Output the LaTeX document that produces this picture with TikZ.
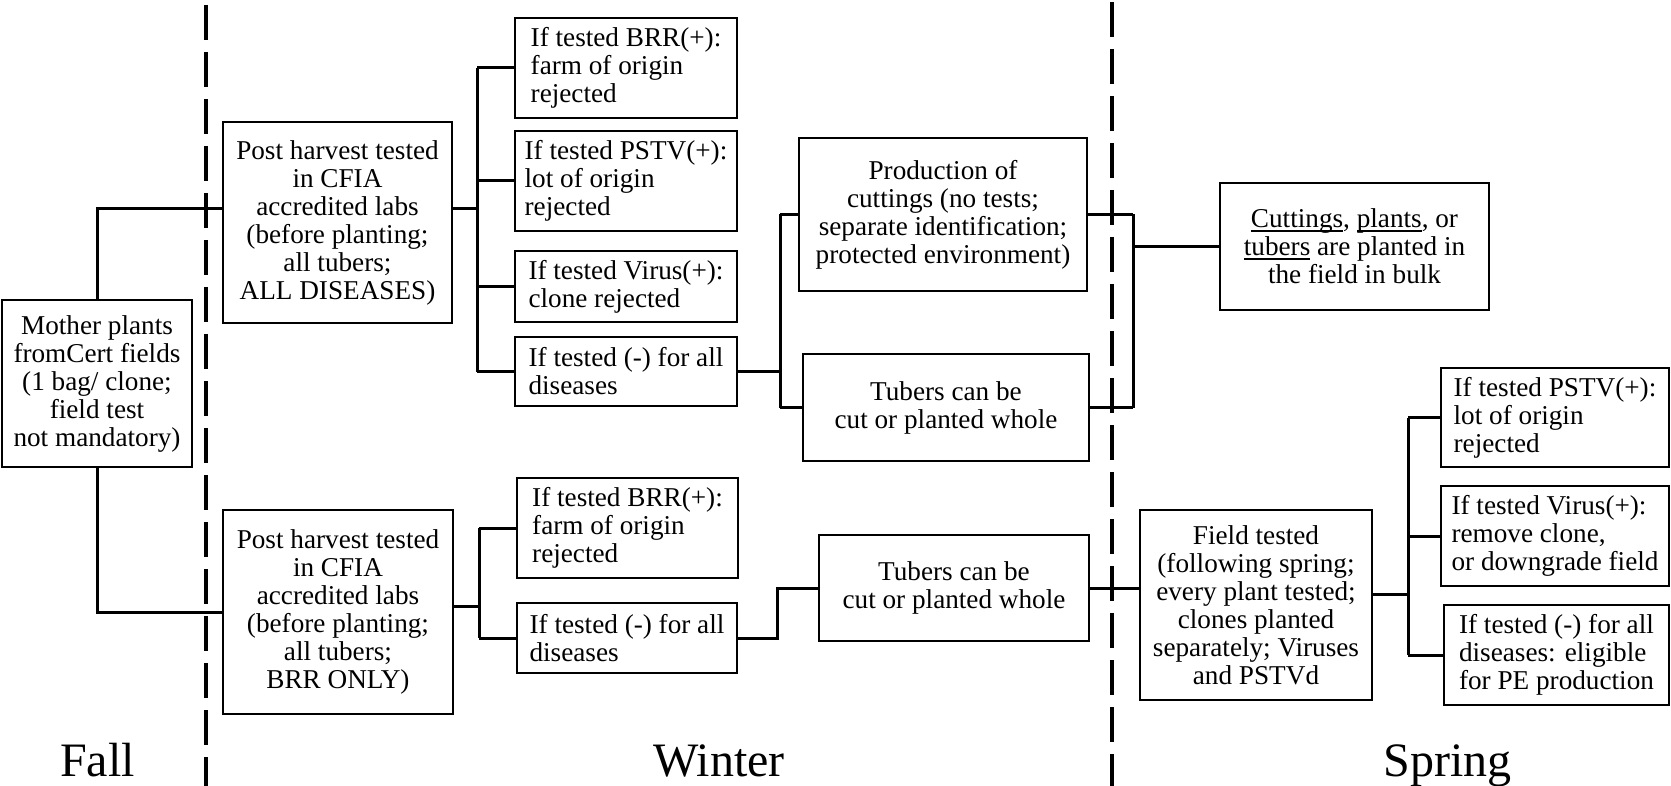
\documentclass[tikz,border=0pt]{standalone}
\usepackage{fontspec}
\setmainfont{Liberation Serif}
\newcommand\ulw[1]{\leavevmode\setbox0\hbox{#1}\rlap{\rule[-2pt]{\wd0}{0.7pt}}\box0\relax}
\begin{document}
\begin{tikzpicture}[x=0.5pt,y=-0.5pt,
  box/.style={draw, line width=1.4pt, inner sep=0pt, font=\fontsize{13.6}{14}\selectfont},
  cbox/.style={box, align=center},
  lbox/.style={box, align=left},
  conn/.style={line width=1.5pt},
  sep/.style={line width=2pt, dash pattern=on 17.5pt off 6pt},
  season/.style={anchor=base, font=\fontsize{24}{28}\selectfont}]
\useasboundingbox (0,0) rectangle (1671,786);

% season separators
\coordinate (s1t) at (206,5);
\coordinate (s1b) at (206,786);
\coordinate (s2t) at (1112,2);
\coordinate (s2b) at (1112,786);
\draw[sep] (s1t) -- (s1b);
\draw[sep] (s2t) -- (s2b);

% nodes
\node[cbox, minimum width=95pt, minimum height=83.5pt] (mother) at (97,383.5)
  {Mother plants\\fromCert fields\\(1 bag/ clone;\\field test\\not mandatory)};
\node[cbox, minimum width=114.5pt, minimum height=100.5pt] (post1) at (337.5,222.5)
  {Post harvest tested\\in CFIA\\accredited labs\\(before planting;\\all tubers;\\ALL DISEASES)};
\node[cbox, minimum width=115pt, minimum height=102pt] (post2) at (338,612)
  {Post harvest tested\\in CFIA\\accredited labs\\(before planting;\\all tubers;\\BRR ONLY)};

\node[lbox, minimum width=111pt, minimum height=50pt] (brr1) at (626,68)
  {If tested BRR(+):\\farm of origin\\rejected};
\node[lbox, minimum width=111pt, minimum height=50pt] (pstv1) at (626,181)
  {If tested PSTV(+):\\lot of origin\\rejected};
\node[lbox, minimum width=111pt, minimum height=35.5pt] (virus1) at (626,286.5)
  {If tested Virus(+):\\clone rejected};
\node[lbox, minimum width=111pt, minimum height=34.5pt] (neg1) at (626,371.5)
  {If tested (-) for all\\diseases};

\node[lbox, minimum width=110.5pt, minimum height=50pt] (brr2) at (627.5,528)
  {If tested BRR(+):\\farm of origin\\rejected};
\node[lbox, minimum width=110pt, minimum height=35pt] (neg2) at (627,638)
  {If tested (-) for all\\diseases};

\node[cbox, minimum width=144pt, minimum height=76.5pt] (prod) at (943,214.5)
  {Production of\\cuttings (no tests;\\separate identification;\\protected environment)};
\node[cbox, minimum width=143pt, minimum height=53.5pt] (tub1) at (946,407.5)
  {Tubers can be\\cut or planted whole};
\node[cbox, minimum width=135pt, minimum height=53pt] (tub2) at (954,588)
  {Tubers can be\\cut or planted whole};

\node[cbox, minimum width=134.5pt, minimum height=63.5pt] (cut) at (1354.5,246.5)
  {\ulw{Cuttings}, \ulw{plants}, or\\\ulw{tubers} are planted in\\the field in bulk};
\node[cbox, minimum width=116pt, minimum height=95pt] (field) at (1256,605)
  {Field tested\\(following spring;\\every plant tested;\\clones planted\\separately; Viruses\\and PSTVd};

\node[lbox, minimum width=114pt, minimum height=49.5pt] (pstv2) at (1555,417.5)
  {If tested PSTV(+):\\lot of origin\\rejected};
\node[lbox, minimum width=114pt, minimum height=50pt] (virus2) at (1555,536)
  {If tested Virus(+):\\remove clone,\\or downgrade field};
\node[lbox, minimum width=112.5pt, minimum height=50pt] (neg3) at (1556.5,655)
  {If tested (-) for all\\diseases: eligible\\for PE production};

% season labels
\node[season] (fall) at (97.5,776) {Fall};
\node[season] (winter) at (719,776) {Winter};
\node[season] (spring) at (1447.5,776) {Spring};

% connectors
\coordinate (jm) at (97,209);
\draw[conn] (mother.north) -- (jm) -- (jm -| post1.west);
\draw[conn] (mother.south) |- (post2.west);

\coordinate (b1) at (477,209);
\draw[conn] (post1.east |- b1) -- (b1);
\draw[conn] (b1 |- brr1.west) -- (b1 |- neg1.west);
\foreach \n in {brr1,pstv1,virus1,neg1} \draw[conn] (b1 |- \n.west) -- (\n.west);

\coordinate (b2) at (479,606);
\draw[conn] (post2.east |- b2) -- (b2);
\draw[conn] (b2 |- brr2.west) -- (b2 |- neg2.west);
\foreach \n in {brr2,neg2} \draw[conn] (b2 |- \n.west) -- (\n.west);

\coordinate (b3) at (780,372);
\draw[conn] (neg1.east) -- (neg1.east -| b3);
\draw[conn] (b3 |- prod.west) -- (b3 |- tub1.west);
\foreach \n in {prod,tub1} \draw[conn] (b3 |- \n.west) -- (\n.west);

\coordinate (b4) at (1133,300);
\draw[conn] (prod.east) -- (prod.east -| b4);
\draw[conn] (tub1.east) -- (tub1.east -| b4);
\draw[conn] (b4 |- prod.east) -- (b4 |- tub1.east);
\draw[conn] (b4 |- cut.west) -- (cut.west);

\coordinate (b5) at (777,638);
\draw[conn] (neg2.east) -- (neg2.east -| b5) |- (tub2.west);
\draw[conn] (tub2.east) -- (tub2.east -| field.west);

\coordinate (b6) at (1408,594);
\draw[conn] (field.east |- b6) -- (b6);
\draw[conn] (b6 |- pstv2.west) -- (b6 |- neg3.west);
\foreach \n in {pstv2,virus2,neg3} \draw[conn] (b6 |- \n.west) -- (\n.west);
\end{tikzpicture}
\end{document}
